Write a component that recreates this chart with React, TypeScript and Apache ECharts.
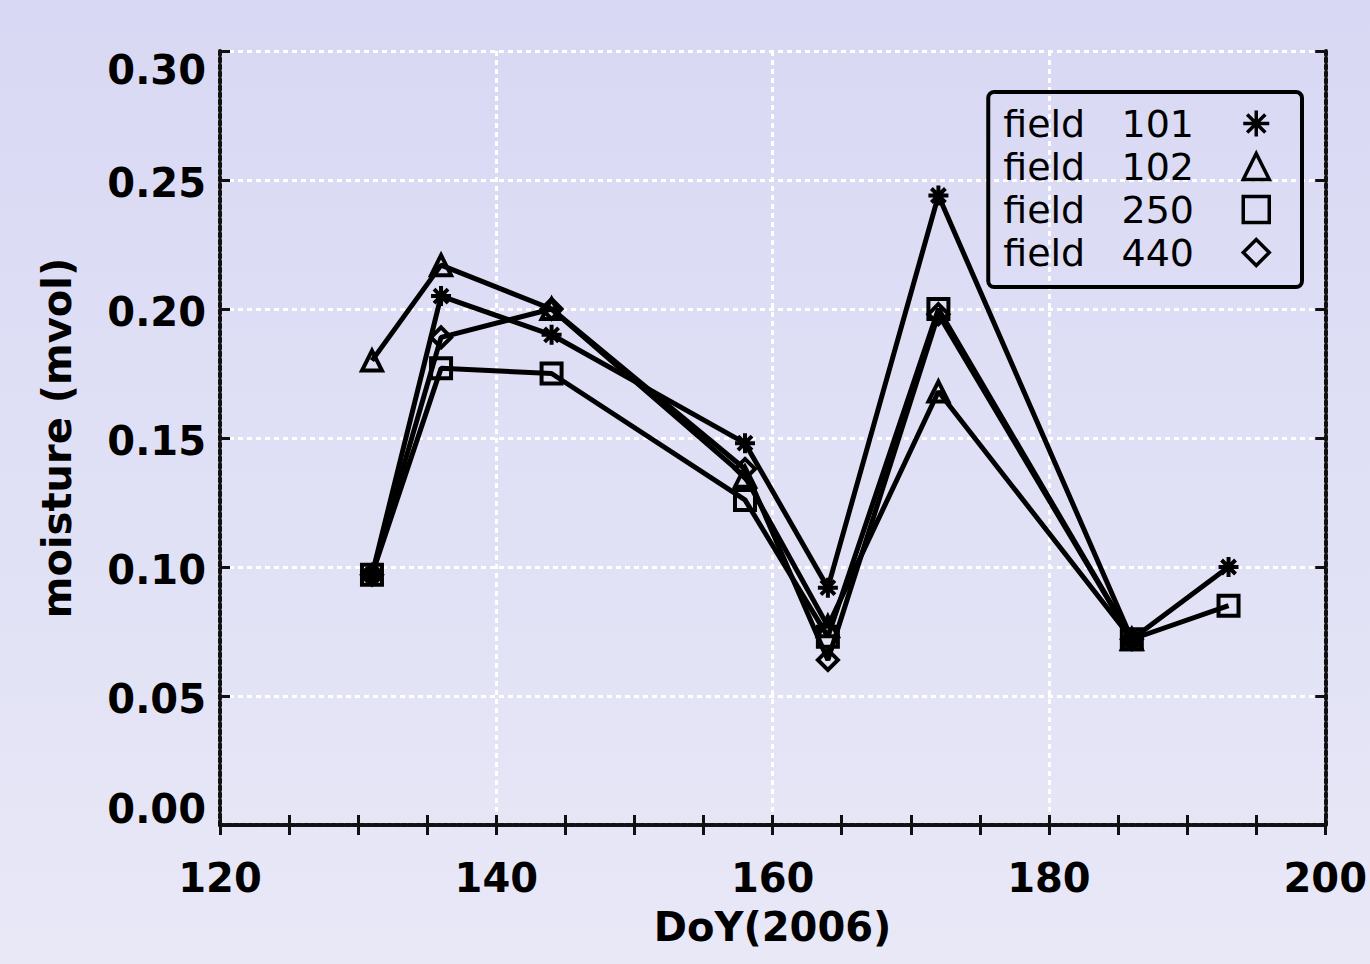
import React, { useEffect, useRef } from "react";
import * as echarts from "echarts";

const seriesNames = ["field   101", "field   102", "field   250", "field   440"];
const field101: [number, number][] = [[131, 0.097], [136, 0.205], [144, 0.19], [158, 0.148], [164, 0.092], [172, 0.244], [186, 0.072], [193, 0.1]];
const field102: [number, number][] = [[131, 0.18], [136, 0.217], [144, 0.2], [158, 0.135], [164, 0.077], [172, 0.168], [186, 0.072]];
const field250: [number, number][] = [[131, 0.097], [136, 0.177], [144, 0.175], [158, 0.126], [164, 0.073], [172, 0.2], [186, 0.072], [193, 0.085]];
const field440: [number, number][] = [[131, 0.097], [136, 0.189], [144, 0.2], [158, 0.138], [164, 0.064], [172, 0.198], [186, 0.072]];
const xTicks = [120, 140, 160, 180, 200];
const yTicks = [0, 0.05, 0.1, 0.15, 0.2, 0.25, 0.3];

const ASTERISK = "path://M10,0L10,20M0,10L20,10M3,3L17,17M3,17L17,3";
const symbols = [ASTERISK, "triangle", "rect", "diamond"];
const FONT = "DejaVu Sans";

export default function App() {
  const ref = useRef<HTMLDivElement>(null);
  useEffect(() => {
    if (!ref.current) return;
    const chart = echarts.init(ref.current, null, { renderer: "svg" });
    const datas = [field101, field102, field250, field440];
    const frameLine = { show: true, lineStyle: { color: "#111", width: 4, type: [4, 3] as any } };
    const tick = { show: true, inside: true, length: 10, lineStyle: { color: "#111", width: 3 } };
    const minorTick = { show: true, splitNumber: 4, length: 10, lineStyle: { color: "#111", width: 3 } };
    const grid = { show: true, lineStyle: { color: "#ffffff", width: 3, type: [5, 4] as any } };
    const xBase = { type: "value", min: xTicks[0], max: xTicks[xTicks.length - 1], interval: 20 };
    const yBase = { type: "value", min: yTicks[0], max: yTicks[yTicks.length - 1], interval: 0.05 };
    const labelFont = { fontFamily: FONT, fontWeight: "bold", fontSize: 40, color: "#000" };
    chart.setOption({
      animation: false,
      backgroundColor: {
        type: "linear", x: 0, y: 0, x2: 0, y2: 1,
        colorStops: [{ offset: 0, color: "#d8d8f4" }, { offset: 1, color: "#e8e8f7" }],
      },
      grid: { left: 220, right: 43, top: 51, bottom: 139, containLabel: false },
      legend: {
        orient: "vertical",
        right: 68,
        top: 92,
        align: "right",
        padding: [10, 31, 13, 15],
        itemGap: 0,
        itemWidth: 26,
        itemHeight: 26,
        borderColor: "#000",
        borderWidth: 4,
        borderRadius: 6,
        backgroundColor: "transparent",
        data: seriesNames.map((n, i) => ({ name: n, icon: symbols[i] })),
        itemStyle: { color: "transparent", borderColor: "#000", borderWidth: 3.5 },
        formatter: (name: string) => `{t|${name}}`,
        textStyle: {
          fontFamily: FONT, fontSize: 38, color: "#000", lineHeight: 43,
          rich: { t: { fontFamily: FONT, fontSize: 38, color: "#000", lineHeight: 43, width: 235, align: "left" } },
        },
      },
      xAxis: [
        {
          ...xBase,
          position: "bottom",
          axisLine: frameLine,
          axisTick: tick,
          minorTick,
          splitLine: grid,
          axisLabel: { ...labelFont, margin: 33 },
          name: "DoY(2006)",
          nameLocation: "middle",
          nameGap: 82,
          nameTextStyle: { ...labelFont },
        },
        {
          ...xBase,
          position: "top",
          axisLine: frameLine,
          axisTick: tick,
          minorTick,
          splitLine: { show: false },
          axisLabel: { show: false },
        },
      ],
      yAxis: [
        {
          ...yBase,
          position: "left",
          axisLine: frameLine,
          axisTick: tick,
          splitLine: grid,
          axisLabel: {
            ...labelFont,
            margin: 14,
            formatter: (v: number) => {
              const s = v.toFixed(2);
              if (v >= 0.299) return `{top|${s}}`;
              if (v <= 0.001) return `{bot|${s}}`;
              return `{mid|${s}}`;
            },
            rich: {
              top: { ...labelFont, padding: [38, 0, 0, 0] },
              bot: { ...labelFont, padding: [0, 0, 32, 0] },
              mid: { ...labelFont, padding: [6, 0, 0, 0] },
            },
          },
          name: "moisture (mvol)",
          nameLocation: "middle",
          nameGap: 143,
          nameTextStyle: { ...labelFont },
        },
        {
          ...yBase,
          position: "right",
          axisLine: frameLine,
          axisTick: tick,
          splitLine: { show: false },
          axisLabel: { show: false },
        },
      ],
      series: datas.map((d, i) => ({
        name: seriesNames[i],
        type: "line",
        data: d,
        symbol: symbols[i],
        symbolSize: 20,
        showAllSymbol: true,
        lineStyle: { color: "#000", width: 5 },
        itemStyle: { color: "transparent", borderColor: "#000", borderWidth: 4 },
        emphasis: { disabled: true },
        z: 3 + i,
      })),
    });
    return () => chart.dispose();
  }, []);
  return <div ref={ref} style={{ position: "fixed", left: 0, top: 0, width: 1370, height: 964 }} />;
}
